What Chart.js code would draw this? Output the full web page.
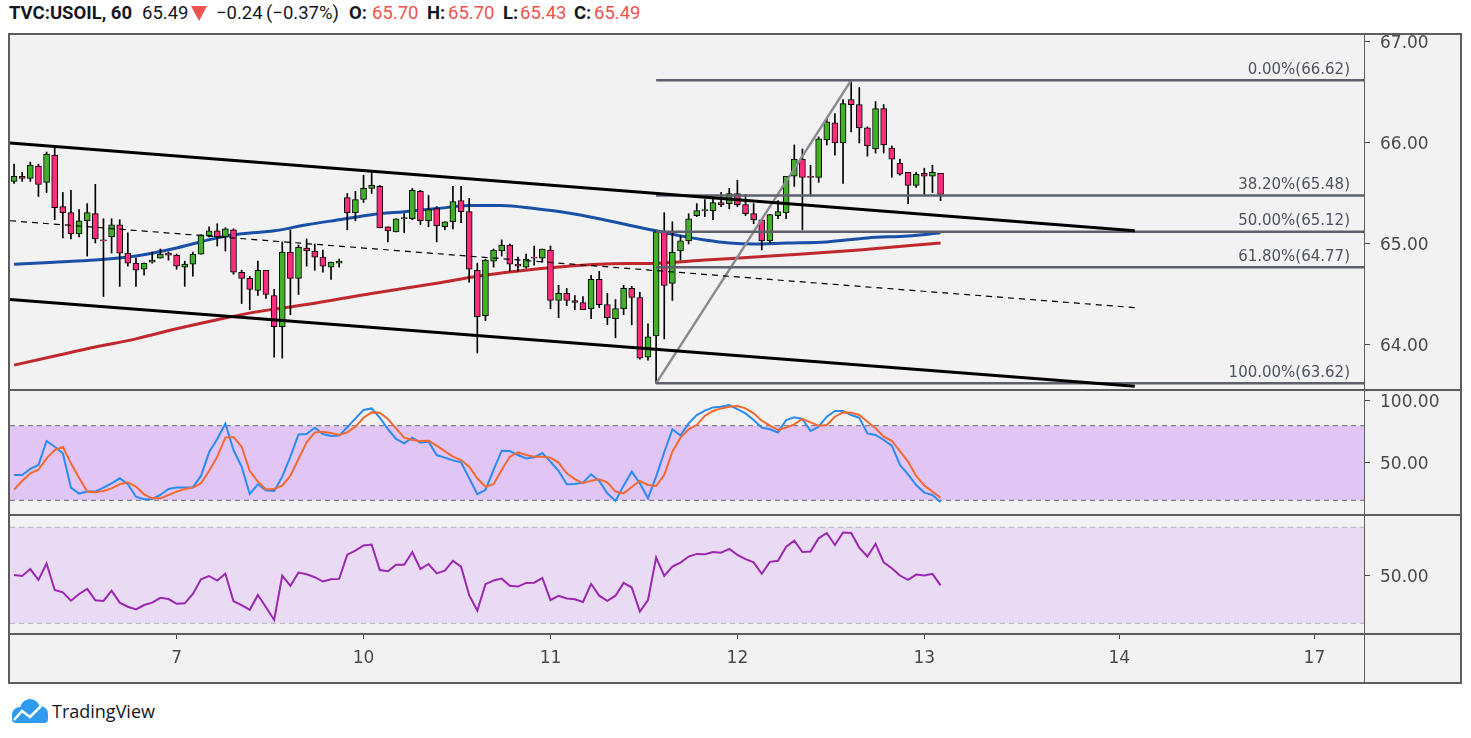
<!DOCTYPE html>
<html>
<head>
<meta charset="utf-8">
<title>TVC:USOIL, 60</title>
<script src="https://cdn.jsdelivr.net/npm/chart.js@4.4.1/dist/chart.umd.min.js"></script>
<style>
  html, body { margin: 0; padding: 0; background: #fff; }
  body { width: 1471px; height: 738px; position: relative; overflow: hidden; font-family: Roboto, sans-serif; }
  #header span { position: absolute; top: 2px; font-size: 18.5px; line-height: 22px; color: #131722; white-space: nowrap; }
  #header .b { font-weight: 700; }
  #header .red { color: #f05350; }
  #header .tri { top: 6px; width: 0; height: 0; border-left: 8px solid transparent; border-right: 8px solid transparent; border-top: 15px solid #f05350; }
  #frame { position: absolute; left: 8px; top: 33px; width: 1450px; height: 647px; border: 2px solid #5d5d5d; background: #f2f2f2; }
  #frame canvas { position: absolute; left: 0; }
  .sep { position: absolute; background: #5d5d5d; z-index: 5; }
  #logo { position: absolute; left: 9px; top: 699px; }
  #brand { position: absolute; left: 52px; top: 699px; font-family: "Open Sans", sans-serif; font-size: 18px; line-height: 24px; color: #131722; }
</style>
</head>
<body>
<div id="header">
  <span class="b" style="left:9px">TVC:USOIL, 60</span>
  <span style="left:142px">65.49</span>
  <span class="tri" style="left:191px"></span>
  <span style="left:216px">−0.24</span>
  <span style="left:266px">(−0.37%)</span>
  <span class="b" style="left:349px">O:</span>
  <span class="red" style="left:372px">65.70</span>
  <span class="b" style="left:427px">H:</span>
  <span class="red" style="left:448px">65.70</span>
  <span class="b" style="left:503px">L:</span>
  <span class="red" style="left:520px">65.43</span>
  <span class="b" style="left:574px">C:</span>
  <span class="red" style="left:594px">65.49</span>
</div>

<div id="frame">
  <canvas id="main" width="1450" height="355" style="top:0"></canvas>
  <canvas id="stoch" width="1450" height="125" style="top:355px"></canvas>
  <canvas id="rsi" width="1450" height="167" style="top:480px"></canvas>
  <div class="sep" style="left:0; top:354px; width:1450px; height:2px"></div>
  <div class="sep" style="left:0; top:479px; width:1450px; height:2px"></div>
  <div class="sep" style="left:0; top:598px; width:1450px; height:2px"></div>
  <div class="sep" style="left:1354px; top:0; width:1px; height:647px"></div>
</div>

<svg id="logo" width="40" height="25" viewBox="0 0 40 25">
  <circle cx="11" cy="16" r="8" fill="#2e9bf0"/>
  <circle cx="21" cy="10" r="10" fill="#2e9bf0"/>
  <circle cx="31" cy="15" r="8" fill="#2e9bf0"/>
  <rect x="3" y="14" width="36" height="10" rx="4" fill="#2e9bf0"/>
  <polyline points="5,21 13,12 21,18 32,7" fill="none" stroke="#fff" stroke-width="2.5"/>
</svg>
<div id="brand">TradingView</div>

<script>
// hourly candles, index 0 = first bar on screen
const opens = [
  65.62, 65.67, 65.65, 65.77, 65.61, 65.88, 65.37, 65.31, 65.10, 65.23,
  65.30, 65.04, 65.07, 65.19, 64.91, 64.81, 64.75, 64.82, 64.86, 64.91,
  64.89, 64.77, 64.80, 64.90, 65.08, 65.13, 65.07, 65.14, 64.72, 64.66,
  64.54, 64.74, 64.49, 64.18, 64.92, 64.66, 64.96, 64.93, 64.87, 64.77,
  64.81, 65.46, 65.31, 65.44, 65.55, 65.57, 65.17, 65.12, 65.25, 65.25,
  65.52, 65.23, 65.35, 65.17, 65.22, 65.43, 65.32, 64.74, 64.29, 64.83,
  64.93, 64.99, 64.80, 64.77, 64.87, 64.86, 64.94, 64.44, 64.51, 64.44,
  64.42, 64.36, 64.65, 64.40, 64.26, 64.36, 64.56, 64.47, 63.88, 64.09,
  65.12, 64.61, 64.93, 65.03, 65.28, 65.33, 65.33, 65.41, 65.40, 65.50,
  65.39, 65.30, 65.24, 65.03, 65.28, 65.31, 65.67, 65.84, 65.67, 65.66,
  66.03, 66.20, 66.00, 66.43, 66.38, 66.15, 65.94, 66.34, 65.95, 65.80,
  65.71, 65.58, 65.70, 65.67, 65.70
];
const highs = [
  65.79, 65.71, 65.81, 65.79, 65.91, 65.96, 65.51, 65.53, 65.34, 65.40,
  65.59, 65.25, 65.25, 65.24, 65.11, 64.86, 64.81, 64.92, 64.95, 64.92,
  64.90, 64.83, 64.92, 65.09, 65.17, 65.20, 65.16, 65.15, 64.74, 64.68,
  64.83, 64.74, 64.55, 65.02, 65.14, 64.99, 65.05, 65.00, 64.94, 64.82,
  64.85, 65.50, 65.52, 65.68, 65.71, 65.58, 65.17, 65.25, 65.30, 65.55,
  65.53, 65.48, 65.37, 65.22, 65.57, 65.57, 65.45, 64.81, 64.85, 64.95,
  65.04, 65.00, 64.87, 64.90, 64.98, 64.95, 64.98, 64.59, 64.56, 64.49,
  64.48, 64.69, 64.73, 64.51, 64.45, 64.59, 64.58, 64.52, 64.21, 65.12,
  65.31, 65.22, 65.08, 65.30, 65.40, 65.44, 65.45, 65.51, 65.55, 65.63,
  65.49, 65.40, 65.24, 65.29, 65.43, 65.67, 65.98, 65.94, 65.78, 66.06,
  66.24, 66.29, 66.43, 66.62, 66.55, 66.16, 66.41, 66.38, 65.97, 65.84,
  65.71, 65.71, 65.75, 65.78, 65.70
];
const lows = [
  65.60, 65.62, 65.62, 65.47, 65.51, 65.24, 65.06, 65.05, 65.07, 64.88,
  65.01, 64.48, 64.91, 64.58, 64.78, 64.58, 64.69, 64.81, 64.86, 64.84,
  64.75, 64.58, 64.68, 64.90, 65.07, 64.98, 64.93, 64.70, 64.41, 64.35,
  64.49, 64.46, 63.88, 63.87, 64.30, 64.50, 64.78, 64.74, 64.72, 64.65,
  64.77, 65.14, 65.23, 65.41, 65.50, 65.16, 65.02, 65.12, 65.11, 65.24,
  65.19, 65.17, 65.02, 65.14, 65.15, 65.21, 64.62, 63.92, 64.24, 64.77,
  64.88, 64.73, 64.73, 64.76, 64.79, 64.82, 64.36, 64.27, 64.39, 64.35,
  64.35, 64.26, 64.37, 64.20, 64.07, 64.30, 64.20, 63.86, 63.85, 63.62,
  64.06, 64.44, 64.84, 65.00, 65.27, 65.27, 65.24, 65.37, 65.35, 65.37,
  65.28, 65.20, 64.94, 65.01, 65.25, 65.25, 65.57, 65.14, 65.48, 65.61,
  65.98, 65.88, 65.60, 66.11, 66.00, 65.87, 65.90, 65.90, 65.66, 65.68,
  65.40, 65.56, 65.48, 65.51, 65.43
];
const closes = [
  65.67, 65.65, 65.78, 65.59, 65.89, 65.36, 65.31, 65.10, 65.23, 65.31,
  65.05, 65.03, 65.19, 64.91, 64.81, 64.74, 64.81, 64.84, 64.90, 64.89,
  64.78, 64.80, 64.90, 65.09, 65.13, 65.07, 65.15, 64.72, 64.66, 64.55,
  64.74, 64.50, 64.18, 64.92, 64.66, 64.97, 64.93, 64.87, 64.78, 64.82,
  64.83, 65.31, 65.44, 65.55, 65.58, 65.16, 65.13, 65.25, 65.26, 65.53,
  65.23, 65.34, 65.18, 65.22, 65.42, 65.32, 64.75, 64.28, 64.84, 64.94,
  64.99, 64.80, 64.78, 64.85, 64.86, 64.95, 64.44, 64.51, 64.44, 64.42,
  64.35, 64.65, 64.40, 64.27, 64.36, 64.56, 64.47, 63.87, 64.08, 65.12,
  64.59, 64.92, 65.03, 65.25, 65.33, 65.34, 65.41, 65.39, 65.50, 65.39,
  65.30, 65.24, 65.03, 65.29, 65.32, 65.67, 65.84, 65.66, 65.66, 66.04,
  66.21, 66.00, 66.39, 66.38, 66.15, 65.97, 66.34, 65.98, 65.84, 65.69,
  65.58, 65.69, 65.67, 65.71, 65.49
];

// moving averages, read at sample bars
const blueMaIdx = [0, 5, 10, 15, 20, 25, 28, 32, 36, 40, 44, 48, 52, 56, 60, 64, 68, 72, 76, 79, 82, 85, 88, 91, 95, 100, 105, 110, 114];
const blueMaVal = [64.80, 64.82, 64.84, 64.88, 64.96, 65.06, 65.10, 65.13, 65.19, 65.24, 65.29, 65.32, 65.35, 65.38, 65.38, 65.35, 65.31, 65.25, 65.18, 65.13, 65.08, 65.04, 65.01, 65.00, 65.01, 65.02, 65.06, 65.08, 65.11];
const redMaIdx = [0, 5, 10, 15, 20, 25, 30, 36, 44, 52, 57, 64, 72, 79, 85, 95, 104, 114];
const redMaVal = [63.80, 63.89, 63.98, 64.06, 64.16, 64.25, 64.33, 64.40, 64.51, 64.61, 64.68, 64.75, 64.80, 64.81, 64.84, 64.89, 64.94, 65.01];

// channel drawn by hand: [start, end]
const chanX = [-0.5, 137.9];
const chanUpper = [66.00, 65.13];
const chanMid = [65.23, 64.37];
const chanLower = [64.45, 63.59];

// fibonacci retracement
const fibLowIdx = 79;
const fibHighIdx = 103;
const fibLevels = [0, 38.2, 50, 61.8, 100];
const fibPrices = [66.62, 65.48, 65.12, 64.77, 63.62];

// stochastic %K / %D
const stochK = [
  40.4, 40.4, 45.2, 48.4, 67.7, 63.1, 57.8, 30.2, 25.4, 27.0,
  27.0, 30.2, 33.7, 37.7, 32.9, 22.9, 20.8, 21.1, 24.3, 29.1,
  30.2, 30.2, 30.4, 39.6, 58.6, 69.3, 81.6, 60.4, 47.1, 25.1,
  32.9, 27.8, 27.5, 39.0, 55.1, 73.0, 73.3, 78.4, 73.3, 71.7,
  72.0, 78.7, 85.9, 92.6, 93.9, 86.4, 77.3, 69.3, 65.8, 70.4,
  66.3, 67.1, 56.4, 54.3, 52.1, 50.5, 37.7, 25.0, 28.3, 44.4,
  59.9, 59.6, 56.4, 53.7, 54.6, 58.0, 51.1, 43.6, 32.9, 33.1,
  34.2, 40.9, 35.5, 25.6, 19.5, 31.8, 43.0, 33.7, 21.6, 39.0,
  58.6, 77.1, 72.0, 81.9, 88.6, 92.1, 94.7, 95.3, 96.6, 93.4,
  89.9, 84.6, 78.4, 77.1, 74.6, 84.6, 86.7, 85.4, 75.7, 79.2,
  87.2, 91.8, 91.8, 88.6, 86.4, 73.8, 72.5, 68.5, 63.9, 48.4,
  40.9, 32.3, 26.2, 24.3, 18.4
];
const stochD = [
  28.6, 35.5, 41.7, 44.6, 53.7, 60.4, 63.1, 49.7, 38.2, 27.0,
  26.4, 27.5, 29.6, 32.9, 34.5, 31.0, 24.8, 21.6, 21.6, 24.3,
  27.0, 29.1, 30.2, 33.7, 43.6, 55.1, 70.4, 70.9, 63.1, 43.6,
  35.0, 28.8, 29.1, 31.8, 39.8, 53.2, 66.6, 74.6, 75.2, 74.1,
  72.5, 74.6, 79.2, 86.4, 90.7, 90.4, 85.4, 77.9, 70.4, 68.5,
  67.7, 67.9, 63.9, 59.6, 55.1, 52.4, 47.1, 37.7, 31.0, 32.9,
  44.4, 55.1, 58.6, 56.4, 55.1, 55.1, 54.3, 50.3, 41.7, 37.1,
  33.7, 35.8, 36.9, 34.5, 27.0, 25.6, 30.7, 35.5, 32.3, 31.5,
  40.4, 59.1, 70.4, 77.1, 80.5, 88.0, 91.8, 93.9, 95.3, 95.8,
  93.9, 89.9, 84.0, 80.0, 76.5, 78.4, 81.1, 85.4, 82.7, 80.0,
  80.5, 87.2, 90.7, 90.4, 88.6, 83.2, 77.9, 71.2, 67.9, 59.6,
  51.1, 39.6, 31.8, 27.0, 22.1
];
const stochBand = [20, 80];

// RSI
const rsi = [
  50.1, 49.7, 52.6, 48.1, 54.9, 43.9, 42.9, 39.4, 42.2, 44.3,
  39.6, 39.3, 43.6, 38.6, 36.9, 35.8, 37.6, 38.6, 40.6, 40.1,
  38.1, 38.3, 42.2, 48.3, 49.7, 47.8, 50.6, 39.2, 37.6, 35.6,
  41.8, 36.7, 31.4, 49.9, 45.6, 51.1, 50.4, 49.2, 47.4, 48.3,
  48.5, 58.6, 60.3, 62.4, 62.8, 52.2, 51.7, 54.4, 54.4, 59.7,
  52.6, 54.7, 50.8, 51.9, 56.0, 53.6, 41.7, 35.3, 46.3, 47.8,
  48.6, 45.6, 45.3, 46.8, 46.9, 48.9, 39.7, 41.4, 40.3, 40.0,
  38.9, 46.4, 41.5, 39.4, 41.5, 46.8, 44.9, 34.9, 39.7, 57.4,
  49.7, 53.6, 55.3, 57.8, 58.9, 58.8, 59.7, 59.4, 61.0, 58.5,
  56.7, 55.4, 50.6, 55.6, 56.0, 61.9, 64.4, 59.7, 59.9, 65.4,
  67.6, 62.6, 67.8, 67.6, 61.5, 57.8, 63.1, 55.4, 52.9, 49.9,
  48.1, 50.3, 49.9, 50.6, 45.8
];
const rsiBand = [30, 70];

// time axis
const dayTickIdx = [20, 43, 66, 89, 112, 136, 160];
const dayLabels = ['7', '10', '11', '12', '13', '14', '17'];

const priceTicks = [64, 65, 66, 67];
const stochTicks = [50, 100];
const rsiTicks = [50];

const X_MIN = -0.5;
const X_MAX = 166.1;
const GREEN = '#43b02a';
const PINK = '#fe2d7b';

Chart.defaults.font.family = '"DejaVu Sans", sans-serif';
Chart.defaults.font.size = 17;
Chart.defaults.color = '#4a4a4a';
Chart.defaults.animation = false;
Chart.defaults.plugins.legend.display = false;
Chart.defaults.plugins.tooltip.enabled = false;
Chart.defaults.elements.point.radius = 0;

const pts = (xs, ys) => xs.map((x, i) => ({ x: x, y: ys[i] }));
const flat = (v) => [{ x: X_MIN, y: v }, { x: X_MAX, y: v }];

function rightAxis(min, max, ticks) {
    return {
        position: 'right',
        min: min,
        max: max,
        beginAtZero: false,
        afterFit: (s) => { s.width = 96; s.paddingTop = 0; s.paddingBottom = 0; },
        afterBuildTicks: (s) => { s.ticks = ticks.map(v => ({ value: v })); },
        ticks: { padding: 10, labelOffset: 2, callback: (v) => v.toFixed(2) },
        grid: { drawOnChartArea: false, drawTicks: true, tickLength: 6, color: '#4a4a4a' },
        border: { display: false }
    };
}

const hiddenX = { type: 'linear', min: X_MIN, max: X_MAX, offset: false, display: false };

const fibLabels = {
    id: 'fibLabels',
    afterDatasetsDraw(chart) {
        const { ctx, chartArea, scales } = chart;
        ctx.save();
        ctx.font = '15px "DejaVu Sans"';
        ctx.fillStyle = '#50535e';
        ctx.textAlign = 'right';
        ctx.textBaseline = 'bottom';
        fibPrices.forEach((p, k) => {
            const txt = `${fibLevels[k].toFixed(2)}%(${p.toFixed(2)})`;
            ctx.fillText(txt, chartArea.right - 14, scales.y.getPixelForValue(p) - 3);
        });
        ctx.restore();
    }
};

const idx = closes.map((_, i) => i);
const bodyColors = closes.map((c, i) => (c >= opens[i] ? GREEN : PINK));

const fibLines = fibPrices.map(p => ({
    type: 'line',
    data: [{ x: fibLowIdx, y: p }, { x: X_MAX, y: p }],
    borderColor: '#5d606b',
    borderWidth: 2.5,
    order: 0
}));

new Chart(document.getElementById('main'), {
    type: 'bar',
    data: {
        datasets: [
            { type: 'line', data: pts(chanX, chanUpper), borderColor: '#000', borderWidth: 3, order: 0 },
            { type: 'line', data: pts(chanX, chanLower), borderColor: '#000', borderWidth: 3, order: 0 },
            { type: 'line', data: pts(chanX, chanMid), borderColor: '#000', borderWidth: 1.2, borderDash: [6, 5], order: 0 },
            ...fibLines,
            {
                type: 'line',
                data: [{ x: fibLowIdx, y: fibPrices[4] }, { x: fibHighIdx, y: fibPrices[0] }],
                borderColor: '#8a8a92',
                borderWidth: 2.5,
                order: 0
            },
            {
                label: 'bodies',
                data: idx.map(i => ({ x: i, y: [opens[i], closes[i]] })),
                backgroundColor: bodyColors,
                borderColor: '#000',
                borderWidth: 1,
                borderSkipped: false,
                barThickness: 6,
                grouped: false,
                order: 1
            },
            {
                label: 'wicks',
                data: idx.map(i => ({ x: i, y: [lows[i], highs[i]] })),
                backgroundColor: '#000',
                borderWidth: 0,
                barThickness: 1,
                grouped: false,
                order: 2
            },
            { type: 'line', data: pts(blueMaIdx, blueMaVal), borderColor: '#1a4fa8', borderWidth: 3, cubicInterpolationMode: 'monotone', order: 3 },
            { type: 'line', data: pts(redMaIdx, redMaVal), borderColor: '#c0282d', borderWidth: 3, cubicInterpolationMode: 'monotone', order: 3 }
        ]
    },
    options: {
        responsive: false,
        layout: { padding: 0 },
        scales: {
            x: hiddenX,
            y: rightAxis(63.554, 67.069, priceTicks)
        }
    },
    plugins: [fibLabels]
});

new Chart(document.getElementById('stoch'), {
    type: 'line',
    data: {
        datasets: [
            { data: pts(idx, stochK), borderColor: '#2a8cf0', borderWidth: 2, order: 1 },
            { data: pts(idx, stochD), borderColor: '#f26a30', borderWidth: 2, order: 0 },
            { data: flat(stochBand[1]), borderColor: '#6b6b78', borderWidth: 1, borderDash: [5, 4], order: 5 },
            { data: flat(stochBand[0]), borderColor: '#6b6b78', borderWidth: 1, borderDash: [5, 4], fill: '-1', backgroundColor: '#e1c5f5', order: 6 }
        ]
    },
    options: {
        responsive: false,
        layout: { padding: 0 },
        scales: {
            x: hiddenX,
            y: rightAxis(8.18, 108.7, stochTicks)
        }
    }
});

new Chart(document.getElementById('rsi'), {
    type: 'line',
    data: {
        datasets: [
            { data: pts(idx, rsi), borderColor: '#9c27b0', borderWidth: 2, order: 0 },
            { data: flat(rsiBand[1]), borderColor: '#b4aebd', borderWidth: 1, borderDash: [5, 4], order: 5 },
            { data: flat(rsiBand[0]), borderColor: '#b4aebd', borderWidth: 1, borderDash: [5, 4], fill: '-1', backgroundColor: '#e9dbf4', order: 6 }
        ]
    },
    options: {
        responsive: false,
        layout: { padding: 0 },
        scales: {
            x: {
                type: 'linear',
                min: X_MIN,
                max: X_MAX,
                offset: false,
                position: 'bottom',
                afterFit: (s) => { s.height = 49; s.paddingLeft = 0; s.paddingRight = 0; },
                afterBuildTicks: (s) => { s.ticks = dayTickIdx.map(v => ({ value: v })); },
                ticks: {
                    autoSkip: false,
                    maxRotation: 0,
                    padding: 9,
                    callback: (v) => dayLabels[dayTickIdx.indexOf(v)]
                },
                grid: { drawOnChartArea: false, drawTicks: true, tickLength: 6, color: '#4a4a4a' },
                border: { display: false }
            },
            y: rightAxis(25.96, 75.1, rsiTicks)
        }
    }
});
</script>
</body>
</html>
